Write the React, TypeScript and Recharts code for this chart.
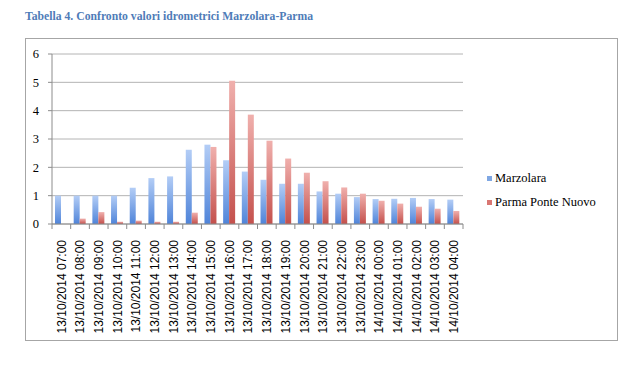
import React from "react";
import { BarChart, Bar, XAxis, YAxis, CartesianGrid } from "recharts";

const categories = [
  "13/10/2014 07:00", "13/10/2014 08:00", "13/10/2014 09:00", "13/10/2014 10:00",
  "13/10/2014 11:00", "13/10/2014 12:00", "13/10/2014 13:00", "13/10/2014 14:00",
  "13/10/2014 15:00", "13/10/2014 16:00", "13/10/2014 17:00", "13/10/2014 18:00",
  "13/10/2014 19:00", "13/10/2014 20:00", "13/10/2014 21:00", "13/10/2014 22:00",
  "13/10/2014 23:00", "14/10/2014 00:00", "14/10/2014 01:00", "14/10/2014 02:00",
  "14/10/2014 03:00", "14/10/2014 04:00",
];

const marzolara = [
  1.0, 1.0, 1.0, 1.0, 1.28, 1.62, 1.68, 2.62, 2.8, 2.25, 1.85, 1.56,
  1.42, 1.42, 1.15, 1.07, 0.95, 0.88, 0.89, 0.92, 0.88, 0.86,
];

const parmaPonteNuovo = [
  0, 0.19, 0.42, 0.08, 0.12, 0.08, 0.08, 0.4, 2.72, 5.06, 3.86, 2.94,
  2.31, 1.81, 1.51, 1.29, 1.07, 0.82, 0.72, 0.61, 0.54, 0.46,
];

const yTicks = [0, 1, 2, 3, 4, 5, 6];

const seriesNames = ["Marzolara", "Parma Ponte Nuovo"];
const legendColors = ["#7fa7e3", "#d97672"];

const data = categories.map((c, i) => ({
  name: c,
  marzolara: marzolara[i],
  parma: parmaPonteNuovo[i],
}));

// plot box in page pixels
const PLOT_LEFT = 52;
const PLOT_RIGHT = 463;
const PLOT_TOP = 54;
const PLOT_BOTTOM = 224;
const BAND = (PLOT_RIGHT - PLOT_LEFT) / categories.length;

function CategoryTick(props: any) {
  const { x, y, payload, index } = props;
  const left = x - BAND / 2;
  return (
    <g>
      <line x1={left} y1={PLOT_BOTTOM} x2={left} y2={PLOT_BOTTOM + 5} stroke="#8c8c8c" />
      {index === categories.length - 1 && (
        <line x1={x + BAND / 2} y1={PLOT_BOTTOM} x2={x + BAND / 2} y2={PLOT_BOTTOM + 5} stroke="#8c8c8c" />
      )}
      <g transform={`translate(${x},${y})`}>
        <text
          x={-8}
          y={0}
          dy="0.36em"
          transform="rotate(-90)"
          textAnchor="end"
          fontFamily="'Liberation Sans', Arial, sans-serif"
          fontSize={12}
          fill="#000"
        >
          {payload.value}
        </text>
      </g>
    </g>
  );
}

export default function App() {
  return (
    <div style={{ position: "absolute", left: 0, top: 0, width: 640, height: 368, background: "#fff" }}>
      <div
        style={{
          position: "absolute",
          left: 25,
          top: 10,
          fontFamily: "'Liberation Serif', serif",
          fontWeight: "bold",
          fontSize: 11.7,
          color: "#4f7cb8",
          whiteSpace: "nowrap",
        }}
      >
        Tabella 4. Confronto valori idrometrici Marzolara-Parma
      </div>
      <div
        style={{
          position: "absolute",
          left: 25,
          top: 38,
          width: 591,
          height: 301,
          border: "1px solid #a6a6a6",
        }}
      />
      <div style={{ position: "absolute", left: 0, top: 0 }}>
        <BarChart
          width={640}
          height={368}
          data={data}
          barGap={0}
          barSize={6}
          margin={{ top: PLOT_TOP, left: PLOT_LEFT - 40, right: 640 - PLOT_RIGHT, bottom: 30 }}
        >
          <defs>
            <linearGradient id="gBlue" x1="0" y1="0" x2="0" y2="1">
              <stop offset="0%" stopColor="#b3cdf6" />
              <stop offset="100%" stopColor="#4f84d9" />
            </linearGradient>
            <linearGradient id="gRed" x1="0" y1="0" x2="0" y2="1">
              <stop offset="0%" stopColor="#f0b0ad" />
              <stop offset="100%" stopColor="#c4504c" />
            </linearGradient>
          </defs>
          <CartesianGrid vertical={false} stroke="#b4b4b4" />
          <XAxis
            dataKey="name"
            interval={0}
            height={368 - PLOT_BOTTOM - 30}
            axisLine={{ stroke: "#8c8c8c" }}
            tickLine={false}
            tick={<CategoryTick />}
          />
          <YAxis
            width={40}
            domain={[0, 6]}
            ticks={yTicks}
            axisLine={{ stroke: "#8c8c8c" }}
            tickLine={{ stroke: "#8c8c8c" }}
            tickSize={4}
            tickMargin={9}
            tick={{ fontFamily: "'Liberation Serif', serif", fontSize: 12.5, fill: "#000" }}
          />
          <Bar dataKey="marzolara" name={seriesNames[0]} fill="url(#gBlue)" isAnimationActive={false} />
          <Bar dataKey="parma" name={seriesNames[1]} fill="url(#gRed)" isAnimationActive={false} />
        </BarChart>
      </div>
      {seriesNames.map((s, i) => (
        <div
          key={s}
          style={{
            position: "absolute",
            left: 487,
            top: 171 + i * 24,
            fontFamily: "'Liberation Serif', serif",
            fontSize: 12.5,
            color: "#000",
            whiteSpace: "nowrap",
            display: "flex",
            alignItems: "center",
          }}
        >
          <span style={{ display: "inline-block", width: 5, height: 5, background: legendColors[i], marginRight: 3 }} />
          {s}
        </div>
      ))}
    </div>
  );
}
